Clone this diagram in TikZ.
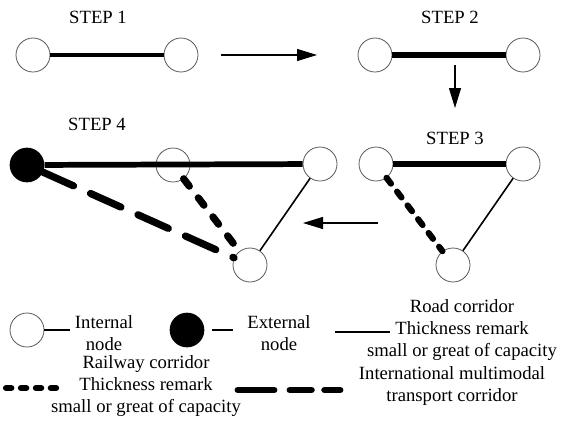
\documentclass[tikz,border=0pt]{standalone}
\usepackage{fontspec}
\setmainfont{Liberation Serif}
\usetikzlibrary{arrows.meta}
\begin{document}
\begin{tikzpicture}[x=0.75pt,y=-0.75pt,
  inode/.style={circle,draw=black!65,line width=0.6pt,fill=white,minimum size=25.5pt,inner sep=0pt},
  enode/.style={circle,fill=black,minimum size=26pt,inner sep=0pt},
  lbl/.style={font=\fontsize{14}{16.5}\selectfont,align=center,inner sep=0pt},
  thin/.style={line width=1.2pt},
  thick1/.style={line width=2.4pt},
  thick2/.style={line width=4.8pt},
  thick3/.style={line width=4.3pt},
  rail/.style={line width=4.6pt,line cap=round,dash pattern=on 5.5pt off 7.5pt},
  rail4/.style={line width=5.4pt,line cap=round,dash pattern=on 7pt off 11pt},
  intl/.style={line width=5.4pt,line cap=round,dash pattern=on 25pt off 14pt},
  flow/.style={line width=0.8pt,-{Triangle[length=15pt,width=9pt]}}]
\useasboundingbox (0,0) rectangle (566,422);
% labels
\node[lbl] (s1) at (98,17) {STEP 1};
\node[lbl] (s2) at (450,17) {STEP 2};
\node[lbl] (s3) at (455,138) {STEP 3};
\node[lbl] (s4) at (97,124) {STEP 4};
% step 1
\node[inode] (a1) at (33,55) {};
\node[inode] (b1) at (181,55) {};
\draw[thick1] (a1) -- (b1);
% step 2
\node[inode] (a2) at (375,55) {};
\node[inode] (b2) at (523,55) {};
\draw[thick2] (a2) -- (b2);
% step 3
\node[inode] (a3) at (376,164) {};
\node[inode] (b3) at (523,164) {};
\node[inode] (c3) at (453,265) {};
\draw[thick3] (a3) -- (b3);
\draw[thin] (b3) -- (c3);
\draw[rail] (a3) -- (c3);
% step 4
\node[enode] (e4) at (27,165) {};
\node[inode] (m4) at (173,165) {};
\node[inode] (b4) at (320,164) {};
\node[inode] (c4) at (250,265) {};
\draw[thick3] (e4) -- (b4);
\draw[thin] (b4) -- (c4);
\draw[rail4] (m4) -- (c4);
\draw[intl] (e4) -- (c4);
% flow arrows
\coordinate (f1s) at (221,55); \coordinate (f1e) at (317,55);
\draw[flow] (f1s) -- (f1e);
\coordinate (f2s) at (455,65); \coordinate (f2e) at (455,108);
\draw[flow] (f2s) -- (f2e);
\coordinate (f3s) at (378,223); \coordinate (f3e) at (303,223);
\draw[flow] (f3s) -- (f3e);
% legend
\node[inode] (li) at (27,330) {};
\coordinate (li2) at (70,330);
\draw[line width=1pt] (li) -- (li2);
\node[lbl] (lit) at (104,333) {Internal\\node};
\node[enode] (le) at (187,330) {};
\coordinate (le1) at (212,330); \coordinate (le2) at (233,330);
\draw[line width=1pt] (le1) -- (le2);
\node[lbl] (let) at (279,333) {External\\node};
\coordinate (lr1) at (335,332); \coordinate (lr2) at (390,332);
\draw[line width=1.5pt] (lr1) -- (lr2);
\node[lbl] (lrt) at (462,330) {Road corridor\\Thickness remark\\small or great of capacity};
\coordinate (lw1) at (6,388); \coordinate (lw2) at (60,388);
\draw[line width=4.6pt,line cap=round,dash pattern=on 4pt off 7.2pt] (lw1) -- (lw2);
\node[lbl] (lwt) at (146,386) {Railway corridor\\Thickness remark\\small or great of capacity};
\coordinate (lm1) at (238,390); \coordinate (lm2) at (340,390);
\draw[line width=5.2pt,line cap=round,dash pattern=on 27pt off 12pt on 16pt off 10pt] (lm1) -- (lm2);
\node[lbl] (lmt) at (452,386) {International multimodal\\transport corridor};
\end{tikzpicture}
\end{document}
